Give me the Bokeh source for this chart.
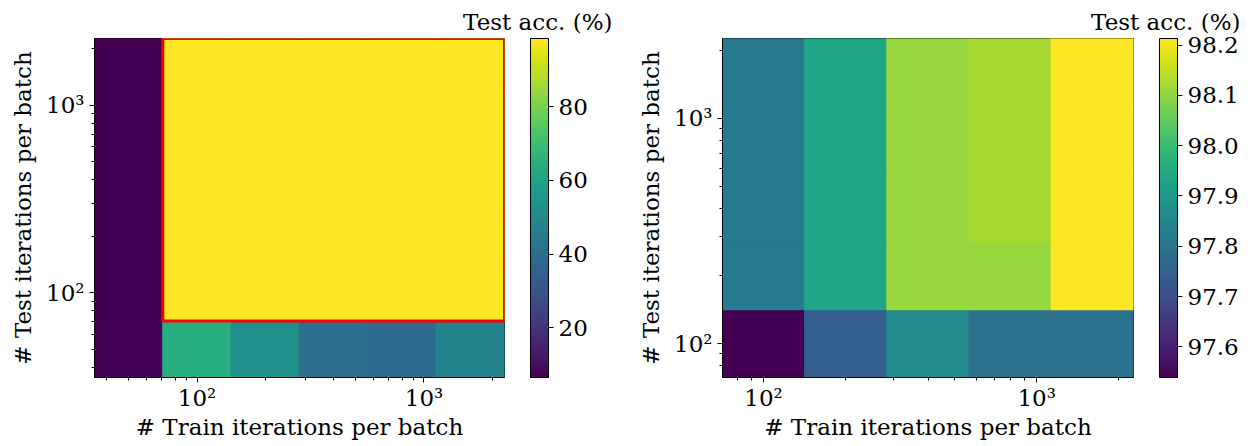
import math
from bokeh.plotting import figure
from bokeh.models import (LinearColorMapper, ColorBar, FixedTicker,
                          PrintfTickFormatter, Title, ColumnDataSource)
from bokeh.transform import linear_cmap
from bokeh.palettes import Viridis256
from bokeh.layouts import row
from bokeh.embed import file_html
from bokeh.resources import INLINE

FONT = "DejaVu Serif"
FS = "23px"

# ---------------- data ----------------
# left panel: 6 x 6 grid (rows = test iterations, cols = train iterations)
left_x = [50, 100, 200, 400, 800, 1600]
left_y = [50, 100, 200, 400, 800, 1600]
left_acc = [
    [7.5, 64.5, 52.5, 40.0, 38.5, 48.0],    # y = 50
    [6.5, 98.3, 98.4, 98.5, 98.4, 98.3],    # y = 100
    [6.5, 98.3, 98.4, 98.5, 98.4, 98.3],    # y = 200
    [6.5, 98.3, 98.4, 98.5, 98.5, 98.3],    # y = 400
    [6.5, 98.3, 98.4, 98.4, 98.4, 98.3],    # y = 800
    [6.5, 98.3, 98.4, 98.5, 98.4, 98.3],    # y = 1600
]
left_highlight_x = [100, 1600]
left_highlight_y = [100, 1600]
left_cbar_ticks = [20, 40, 60, 80]

# right panel: 5 x 5 grid
right_x = [100, 200, 400, 800, 1600]
right_y = [100, 200, 400, 800, 1600]
right_acc = [
    [97.539, 97.74, 97.86, 97.79, 97.79],    # y = 100
    [97.815, 97.935, 98.11, 98.11, 98.212],  # y = 200
    [97.815, 97.935, 98.11, 98.125, 98.212], # y = 400
    [97.82, 97.935, 98.11, 98.125, 98.212],  # y = 800
    [97.82, 97.935, 98.11, 98.125, 98.213],  # y = 1600
]
right_cbar_ticks = [97.6, 97.7, 97.8, 97.9, 98.0, 98.1, 98.2]

log_tick_values = [100, 1000]
log_tick_labels = {100: "10²", 1000: "10³"}
x_label = "# Train iterations per batch"
y_label = "# Test iterations per batch"
cbar_title = "Test acc. (%)"

MINOR = [m * 10 ** e for e in (1, 2, 3) for m in range(2, 10)]
R2 = math.sqrt(2.0)


def make_panel(xs, ys, acc, cb_ticks, cb_fmt, width, border_left, border_right,
               title_offset, highlight=None):
    lows = min(min(r) for r in acc)
    highs = max(max(r) for r in acc)
    L, R, B, T, V = [], [], [], [], []
    for j, yv in enumerate(ys):
        for i, xv in enumerate(xs):
            L.append(xv / R2); R.append(xv * R2)
            B.append(yv / R2); T.append(yv * R2)
            V.append(acc[j][i])
    src = ColumnDataSource(dict(left=L, right=R, bottom=B, top=T, val=V))

    p = figure(width=width, height=446, x_axis_type="log", y_axis_type="log",
               x_range=(min(xs) / R2, max(xs) * R2),
               y_range=(min(ys) / R2, max(ys) * R2),
               output_backend="svg", toolbar_location=None,
               min_border_left=border_left, min_border_right=border_right,
               min_border_top=38, min_border_bottom=69)
    p.title = Title(text=cbar_title, align="right", offset=title_offset,
                    text_font=FONT, text_font_size=FS, text_font_style="normal",
                    text_color="black", standoff=7)
    p.grid.visible = False
    p.outline_line_color = "black"
    p.outline_line_width = 1
    p.outline_line_alpha = 1
    p.background_fill_color = "white"
    p.border_fill_color = "white"

    cmap = linear_cmap("val", Viridis256, lows, highs)
    p.quad(left="left", right="right", bottom="bottom", top="top", source=src,
           fill_color=cmap, line_color=cmap, line_width=1.2)

    if highlight is not None:
        hx, hy = highlight
        p.quad(left=[hx[0] / R2], right=[hx[1] * R2],
               bottom=[hy[0] / R2], top=[hy[1] * R2],
               fill_color=None, line_color="#ff0000", line_width=3)

    for ax, lab in ((p.xaxis[0], x_label), (p.yaxis[0], y_label)):
        ax.ticker = FixedTicker(ticks=log_tick_values, minor_ticks=MINOR)
        ax.major_label_overrides = log_tick_labels
        ax.major_label_text_font = FONT
        ax.major_label_text_font_size = FS
        ax.major_label_text_color = "black"
        ax.axis_label = lab
        ax.axis_label_text_font = FONT
        ax.axis_label_text_font_size = FS
        ax.axis_label_text_font_style = "normal"
        ax.axis_label_text_color = "black"
        ax.axis_line_color = "black"
        ax.major_tick_line_color = "black"
        ax.minor_tick_line_color = "black"
        ax.major_tick_out = 5
        ax.major_tick_in = 0
        ax.minor_tick_out = 3
        ax.minor_tick_in = 0
    p.xaxis[0].major_label_standoff = 2
    p.xaxis[0].axis_label_standoff = 0
    p.yaxis[0].major_label_standoff = 5
    p.yaxis[0].axis_label_standoff = 7

    mapper = LinearColorMapper(palette=Viridis256, low=lows, high=highs)
    cb = ColorBar(color_mapper=mapper, ticker=FixedTicker(ticks=cb_ticks),
                  formatter=PrintfTickFormatter(format=cb_fmt),
                  width=18, height=339, location=(26, 0), padding=0, margin=0,
                  bar_line_color="black", bar_line_width=1,
                  major_tick_out=5, major_tick_in=0, major_tick_line_color="black",
                  minor_tick_out=0, minor_tick_in=0, minor_tick_line_color=None,
                  major_label_text_font=FONT, major_label_text_font_size=FS,
                  major_label_text_color="black", label_standoff=5,
                  background_fill_alpha=0, border_line_color=None)
    p.add_layout(cb, "right")
    return p


p1 = make_panel(left_x, left_y, left_acc, left_cbar_ticks, "%d",
                width=623, border_left=94, border_right=119, title_offset=-108,
                highlight=(left_highlight_x, left_highlight_y))
p2 = make_panel(right_x, right_y, right_acc, right_cbar_ticks, "%.1f",
                width=626, border_left=99, border_right=116, title_offset=-107)

layout = row(p1, p2)
open("out.html", "w").write(file_html(layout, INLINE))
